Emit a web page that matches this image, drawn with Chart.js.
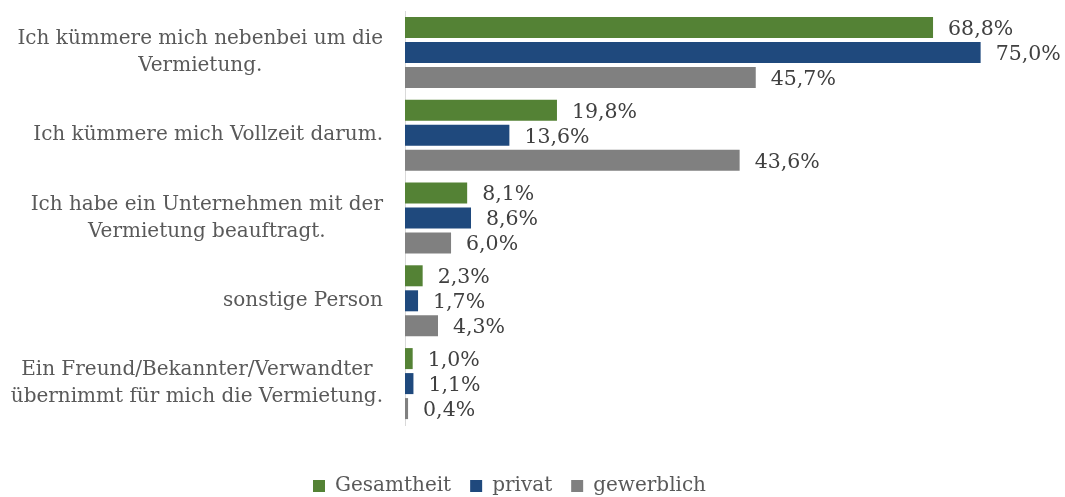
<!DOCTYPE html>
<html>
<head>
<meta charset="utf-8">
<script src="https://cdn.jsdelivr.net/npm/chart.js@4/dist/chart.umd.min.js"></script>
<style>
  html, body { margin: 0; padding: 0; background: #fff; }
  #wrap { width: 1065px; height: 497px; }
</style>
</head>
<body>
<div id="wrap"><canvas id="grafico"></canvas></div>
<script>
// Daten
const kategorien = [
    ['Ich kümmere mich nebenbei um die', 'Vermietung.'],
    ['Ich kümmere mich Vollzeit darum.'],
    ['Ich habe ein Unternehmen mit der', 'Vermietung beauftragt.'],
    ['sonstige Person'],
    ['Ein Freund/Bekannter/Verwandter', 'übernimmt für mich die Vermietung.']
];
const gesamtheit = [68.8, 19.8, 8.1, 2.3, 1.0];
const privat = [75.0, 13.6, 8.6, 1.7, 1.1];
const gewerblich = [45.7, 43.6, 6.0, 4.3, 0.4];

const schrift = 'DejaVu Serif';
const textFarbe = '#595959';

// Wert-Beschriftungen rechts neben den Balken
const wertLabels = {
    id: 'wertLabels',
    afterDatasetsDraw(chart) {
        const ctx = chart.ctx;
        ctx.save();
        ctx.font = '20.5px "' + schrift + '"';
        ctx.fillStyle = '#404040';
        ctx.textAlign = 'left';
        ctx.textBaseline = 'middle';
        chart.data.datasets.forEach((ds, i) => {
            chart.getDatasetMeta(i).data.forEach((bar, j) => {
                const txt = ds.data[j].toFixed(1).replace('.', ',') + '%';
                ctx.fillText(txt, bar.x + 15, bar.y + 2);
            });
        });
        ctx.restore();
    }
};

// Kategorien links (rechtsbündig, Zeilen zentriert)
const kategorieLabels = {
    id: 'kategorieLabels',
    afterDraw(chart) {
        const ctx = chart.ctx;
        const y = chart.scales.y;
        const rechts = chart.chartArea.left - 22;
        ctx.save();
        ctx.font = '20px "' + schrift + '"';
        ctx.fillStyle = textFarbe;
        ctx.textAlign = 'center';
        ctx.textBaseline = 'middle';
        kategorien.forEach((zeilen, i) => {
            const breite = Math.max(...zeilen.map(z => ctx.measureText(z).width));
            const mitte = y.getPixelForValue(i);
            const zh = 27;
            const start = mitte - (zeilen.length - 1) * zh / 2;
            zeilen.forEach((z, k) => {
                ctx.fillText(z, rechts - breite / 2, start + k * zh);
            });
        });
        ctx.restore();
    }
};

const ctx = document.getElementById('grafico').getContext('2d');
const grafico = new Chart(ctx, {
    type: 'bar',
    data: {
        labels: kategorien,
        datasets: [
            { label: 'Gesamtheit', data: gesamtheit, backgroundColor: '#548235' },
            { label: 'privat', data: privat, backgroundColor: '#1f497d' },
            { label: 'gewerblich', data: gewerblich, backgroundColor: '#808080' }
        ]
    },
    options: {
        indexAxis: 'y',
        responsive: true,
        maintainAspectRatio: false,
        animation: false,
        categoryPercentage: 0.906,
        barPercentage: 0.84,
        layout: { padding: { top: 11, right: 46, bottom: -9, left: 0 } },
        scales: {
            x: {
                min: 0,
                max: 80,
                ticks: { display: false },
                grid: { display: false },
                border: { display: false },
                afterFit(scale) { scale.height = 32; }
            },
            y: {
                ticks: { display: false },
                grid: { display: false },
                border: { display: true, color: '#d9d9d9', width: 1 },
                afterFit(scale) { scale.width = 405; }
            }
        },
        plugins: {
            legend: {
                position: 'bottom',
                labels: {
                    boxWidth: 12,
                    boxHeight: 12,
                    padding: 19,
                    color: textFarbe,
                    font: { family: schrift, size: 20 }
                }
            },
            tooltip: { enabled: false }
        }
    },
    plugins: [wertLabels, kategorieLabels]
});
</script>
</body>
</html>
